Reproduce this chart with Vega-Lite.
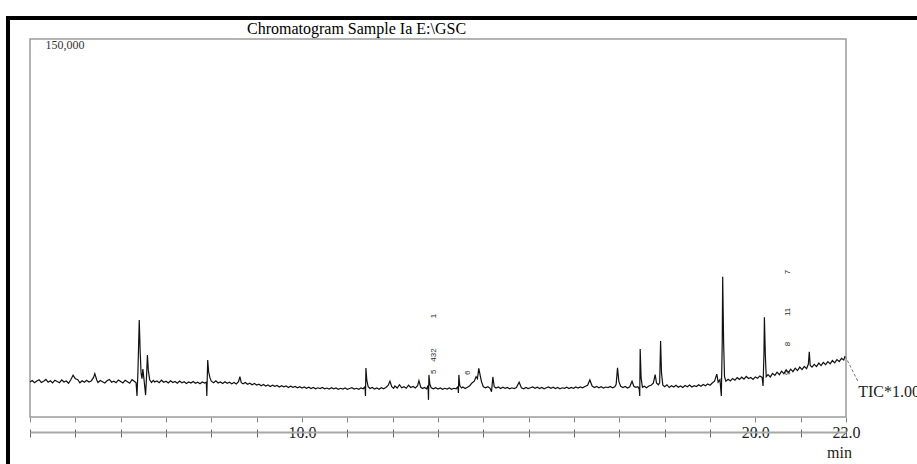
{
  "$schema": "https://vega.github.io/schema/vega-lite/v6.json",
  "width": 909,
  "height": 446,
  "autosize": {"type": "none"},
  "padding": {"left": 8, "top": 18, "right": 0, "bottom": 0},
  "background": "white",
  "view": {"stroke": "black", "strokeWidth": 4, "strokeDash": [909, 1355, 446], "fill": "white"},
  "title": {"text": "Chromatogram Sample Ia E:\\GSC", "anchor": "middle", "frame": "group", "dx": -106, "dy": 32, "offset": 0, "font": "Liberation Serif", "fontSize": 16, "fontWeight": "normal", "color": "black", "baseline": "alphabetic"},
  "config": {"font": "Liberation Serif"},
  "resolve": {"axis": {"x": "independent", "y": "independent"}},
  "datasets": {
    "box": [{"t0": 4, "t1": 22, "v0": 0, "v1": 150000}],
    "peaks": [
      {"t": 12.91, "v": 40100, "label": "1"},
      {"t": 12.91, "v": 24600, "label": "432"},
      {"t": 12.91, "v": 17900, "label": "5"},
      {"t": 13.66, "v": 17500, "label": "6"},
      {"t": 20.72, "v": 57500, "label": "7"},
      {"t": 20.72, "v": 41700, "label": "11"},
      {"t": 20.72, "v": 29000, "label": "8"},
      {"t": 20.72, "v": 17500, "label": "9"}
    ],
    "tic": [{"t": 21.98, "v": 24200}, {"t": 22.27, "v": 13900}],
    "ticlabel": [{"t": 22.27, "v": 9900, "label": "TIC*1.00"}],
    "trace": [
      {"t":4.00,"v":13900},{"t":4.05,"v":14500},{"t":4.10,"v":13600},{"t":4.15,"v":14300},{"t":4.20,"v":14800},{"t":4.25,"v":13700},{"t":4.30,"v":14200},{"t":4.35,"v":14900},{"t":4.40,"v":13800},{"t":4.45,"v":14400},
      {"t":4.50,"v":13500},{"t":4.55,"v":14600},{"t":4.60,"v":14100},{"t":4.65,"v":13600},{"t":4.70,"v":14700},{"t":4.75,"v":13900},{"t":4.80,"v":14300},{"t":4.85,"v":13400},{"t":4.90,"v":14800},{"t":4.95,"v":16600},
      {"t":5.00,"v":15200},{"t":5.05,"v":14900},{"t":5.10,"v":13600},{"t":5.15,"v":14400},{"t":5.20,"v":13800},{"t":5.25,"v":14600},{"t":5.30,"v":13900},{"t":5.35,"v":14300},{"t":5.40,"v":15600},{"t":5.43,"v":17200},
      {"t":5.47,"v":14800},{"t":5.50,"v":13700},{"t":5.55,"v":14500},{"t":5.60,"v":14000},{"t":5.65,"v":13500},{"t":5.70,"v":14400},{"t":5.75,"v":14900},{"t":5.80,"v":13800},{"t":5.85,"v":14200},{"t":5.90,"v":13600},
      {"t":5.95,"v":14700},{"t":6.00,"v":14100},{"t":6.05,"v":13500},{"t":6.10,"v":14600},{"t":6.15,"v":14000},{"t":6.20,"v":13400},{"t":6.25,"v":14800},{"t":6.30,"v":14200},{"t":6.34,"v":13600},{"t":6.36,"v":8300},
      {"t":6.38,"v":17500},{"t":6.41,"v":38500},{"t":6.43,"v":26000},{"t":6.45,"v":17500},{"t":6.47,"v":15200},{"t":6.49,"v":19000},{"t":6.52,"v":14000},{"t":6.55,"v":8700},{"t":6.57,"v":16000},{"t":6.59,"v":24600},
      {"t":6.61,"v":18500},{"t":6.64,"v":14800},{"t":6.68,"v":13700},{"t":6.72,"v":14500},{"t":6.75,"v":13900},{"t":6.80,"v":14300},{"t":6.85,"v":13600},{"t":6.90,"v":14600},{"t":6.95,"v":13800},{"t":7.00,"v":14200},
      {"t":7.05,"v":13500},{"t":7.10,"v":14400},{"t":7.15,"v":13700},{"t":7.20,"v":14100},{"t":7.25,"v":13400},{"t":7.30,"v":14300},{"t":7.35,"v":13600},{"t":7.40,"v":14000},{"t":7.45,"v":13300},{"t":7.50,"v":13900},
      {"t":7.55,"v":13500},{"t":7.60,"v":14100},{"t":7.65,"v":13400},{"t":7.70,"v":13800},{"t":7.75,"v":13200},{"t":7.80,"v":13900},{"t":7.85,"v":13500},{"t":7.89,"v":13800},{"t":7.90,"v":8300},{"t":7.92,"v":22600},
      {"t":7.94,"v":18000},{"t":7.97,"v":15500},{"t":8.00,"v":14200},{"t":8.05,"v":13600},{"t":8.10,"v":14400},{"t":8.15,"v":13500},{"t":8.20,"v":13900},{"t":8.25,"v":13300},{"t":8.30,"v":14000},{"t":8.35,"v":13400},
      {"t":8.40,"v":13800},{"t":8.45,"v":13200},{"t":8.50,"v":13700},{"t":8.55,"v":13100},{"t":8.60,"v":14000},{"t":8.63,"v":16000},{"t":8.66,"v":13600},{"t":8.70,"v":13200},{"t":8.75,"v":13700},{"t":8.80,"v":13000},
      {"t":8.85,"v":13400},{"t":8.90,"v":12800},{"t":8.95,"v":13300},{"t":9.00,"v":12700},{"t":9.05,"v":13000},{"t":9.10,"v":12400},{"t":9.15,"v":12900},{"t":9.20,"v":12300},{"t":9.25,"v":12700},{"t":9.30,"v":12100},
      {"t":9.35,"v":12600},{"t":9.40,"v":12200},{"t":9.45,"v":12500},{"t":9.50,"v":11900},{"t":9.55,"v":12400},{"t":9.60,"v":12000},{"t":9.65,"v":12300},{"t":9.70,"v":11700},{"t":9.75,"v":12200},{"t":9.80,"v":11800},
      {"t":9.85,"v":12100},{"t":9.90,"v":11600},{"t":9.95,"v":12000},{"t":10.00,"v":11500},{"t":10.05,"v":11900},{"t":10.10,"v":11400},{"t":10.15,"v":11800},{"t":10.20,"v":11300},{"t":10.25,"v":11700},{"t":10.30,"v":11200},
      {"t":10.35,"v":11600},{"t":10.40,"v":11300},{"t":10.45,"v":11700},{"t":10.50,"v":11200},{"t":10.55,"v":11500},{"t":10.60,"v":11100},{"t":10.65,"v":11600},{"t":10.70,"v":11200},{"t":10.75,"v":11500},{"t":10.80,"v":11000},
      {"t":10.85,"v":11400},{"t":10.90,"v":11100},{"t":10.95,"v":11500},{"t":11.00,"v":11000},{"t":11.05,"v":11300},{"t":11.10,"v":11600},{"t":11.15,"v":11100},{"t":11.20,"v":11400},{"t":11.25,"v":11000},{"t":11.30,"v":11500},
      {"t":11.35,"v":11200},{"t":11.39,"v":12000},{"t":11.40,"v":8300},{"t":11.41,"v":19400},{"t":11.43,"v":14500},{"t":11.46,"v":12000},{"t":11.50,"v":11300},{"t":11.55,"v":11700},{"t":11.60,"v":11100},{"t":11.65,"v":11500},
      {"t":11.70,"v":11000},{"t":11.75,"v":11600},{"t":11.80,"v":11200},{"t":11.85,"v":11700},{"t":11.90,"v":12500},{"t":11.94,"v":14200},{"t":11.98,"v":12000},{"t":12.02,"v":11400},{"t":12.05,"v":12300},{"t":12.10,"v":11500},
      {"t":12.15,"v":12800},{"t":12.20,"v":11600},{"t":12.25,"v":12000},{"t":12.30,"v":11400},{"t":12.35,"v":12600},{"t":12.40,"v":11700},{"t":12.45,"v":12100},{"t":12.50,"v":11500},{"t":12.55,"v":12400},{"t":12.58,"v":14400},
      {"t":12.62,"v":11800},{"t":12.66,"v":11300},{"t":12.70,"v":11700},{"t":12.75,"v":11200},{"t":12.78,"v":12500},{"t":12.79,"v":6800},{"t":12.80,"v":16700},{"t":12.82,"v":13000},{"t":12.85,"v":11600},{"t":12.90,"v":11200},
      {"t":12.95,"v":11600},{"t":13.00,"v":11100},{"t":13.05,"v":11500},{"t":13.10,"v":11000},{"t":13.15,"v":11400},{"t":13.20,"v":11100},{"t":13.25,"v":11500},{"t":13.30,"v":11000},{"t":13.35,"v":11400},{"t":13.40,"v":11200},
      {"t":13.44,"v":12000},{"t":13.45,"v":9500},{"t":13.46,"v":16700},{"t":13.48,"v":12500},{"t":13.52,"v":11500},{"t":13.55,"v":11900},{"t":13.60,"v":11300},{"t":13.65,"v":11800},{"t":13.70,"v":12400},{"t":13.75,"v":13500},
      {"t":13.80,"v":14200},{"t":13.84,"v":16000},{"t":13.87,"v":15200},{"t":13.90,"v":19300},{"t":13.93,"v":16500},{"t":13.96,"v":14000},{"t":14.00,"v":12000},{"t":14.05,"v":11600},{"t":14.10,"v":12000},{"t":14.15,"v":11400},
      {"t":14.18,"v":10000},{"t":14.21,"v":15900},{"t":14.24,"v":12000},{"t":14.28,"v":11500},{"t":14.33,"v":11900},{"t":14.38,"v":11300},{"t":14.43,"v":11800},{"t":14.48,"v":11400},{"t":14.53,"v":11700},{"t":14.58,"v":11200},
      {"t":14.63,"v":11600},{"t":14.68,"v":11300},{"t":14.73,"v":11700},{"t":14.79,"v":13800},{"t":14.84,"v":11600},{"t":14.89,"v":11200},{"t":14.94,"v":11700},{"t":14.99,"v":11300},{"t":15.04,"v":11600},{"t":15.09,"v":11900},
      {"t":15.14,"v":11400},{"t":15.19,"v":11800},{"t":15.24,"v":11300},{"t":15.29,"v":11700},{"t":15.34,"v":11200},{"t":15.39,"v":11600},{"t":15.44,"v":11900},{"t":15.49,"v":11400},{"t":15.54,"v":11800},{"t":15.59,"v":11300},
      {"t":15.64,"v":11700},{"t":15.69,"v":11200},{"t":15.74,"v":11600},{"t":15.79,"v":11400},{"t":15.84,"v":11800},{"t":15.89,"v":11300},{"t":15.94,"v":11700},{"t":15.99,"v":11400},{"t":16.04,"v":11900},{"t":16.09,"v":11500},
      {"t":16.14,"v":11900},{"t":16.19,"v":11600},{"t":16.24,"v":12100},{"t":16.30,"v":12600},{"t":16.35,"v":14700},{"t":16.40,"v":12300},{"t":16.45,"v":11700},{"t":16.50,"v":12100},{"t":16.55,"v":11600},{"t":16.60,"v":12000},
      {"t":16.65,"v":11500},{"t":16.70,"v":11900},{"t":16.75,"v":11700},{"t":16.80,"v":12100},{"t":16.85,"v":11600},{"t":16.90,"v":12000},{"t":16.93,"v":13000},{"t":16.96,"v":19500},{"t":16.99,"v":14000},{"t":17.03,"v":12200},
      {"t":17.08,"v":11700},{"t":17.13,"v":12100},{"t":17.18,"v":11500},{"t":17.23,"v":12000},{"t":17.28,"v":14200},{"t":17.32,"v":12200},{"t":17.36,"v":11800},{"t":17.41,"v":12000},{"t":17.44,"v":11000},{"t":17.45,"v":8300},
      {"t":17.46,"v":27000},{"t":17.48,"v":15500},{"t":17.51,"v":11800},{"t":17.55,"v":12200},{"t":17.60,"v":11600},{"t":17.65,"v":12300},{"t":17.70,"v":12600},{"t":17.75,"v":13400},{"t":17.79,"v":16800},{"t":17.82,"v":13500},
      {"t":17.86,"v":12800},{"t":17.89,"v":13600},{"t":17.91,"v":30200},{"t":17.93,"v":17500},{"t":17.96,"v":12600},{"t":18.00,"v":12000},{"t":18.05,"v":12800},{"t":18.10,"v":11700},{"t":18.15,"v":12400},{"t":18.20,"v":11900},
      {"t":18.25,"v":12600},{"t":18.30,"v":11800},{"t":18.35,"v":12300},{"t":18.40,"v":11700},{"t":18.45,"v":12500},{"t":18.50,"v":12000},{"t":18.55,"v":12700},{"t":18.60,"v":11900},{"t":18.65,"v":12400},{"t":18.70,"v":12100},
      {"t":18.75,"v":12800},{"t":18.80,"v":12200},{"t":18.85,"v":12900},{"t":18.90,"v":12400},{"t":18.95,"v":13100},{"t":19.00,"v":12600},{"t":19.05,"v":13500},{"t":19.10,"v":14200},{"t":19.15,"v":17000},{"t":19.18,"v":13800},
      {"t":19.22,"v":14800},{"t":19.25,"v":8300},{"t":19.27,"v":30000},{"t":19.28,"v":55700},{"t":19.30,"v":30000},{"t":19.32,"v":16000},{"t":19.35,"v":14200},{"t":19.40,"v":15000},{"t":19.45,"v":14300},{"t":19.50,"v":15300},
      {"t":19.55,"v":14600},{"t":19.60,"v":15600},{"t":19.65,"v":14900},{"t":19.70,"v":15800},{"t":19.75,"v":15000},{"t":19.80,"v":16100},{"t":19.85,"v":15300},{"t":19.90,"v":15700},{"t":19.95,"v":14900},{"t":20.00,"v":15900},
      {"t":20.05,"v":15400},{"t":20.10,"v":16300},{"t":20.15,"v":15700},{"t":20.17,"v":12300},{"t":20.19,"v":25000},{"t":20.20,"v":39600},{"t":20.22,"v":25000},{"t":20.24,"v":16000},{"t":20.28,"v":16800},{"t":20.33,"v":15900},
      {"t":20.38,"v":17300},{"t":20.43,"v":16500},{"t":20.48,"v":17800},{"t":20.53,"v":16800},{"t":20.58,"v":18200},{"t":20.63,"v":17200},{"t":20.68,"v":18700},{"t":20.73,"v":17600},{"t":20.78,"v":19000},{"t":20.83,"v":18000},
      {"t":20.88,"v":19400},{"t":20.93,"v":18400},{"t":20.98,"v":19800},{"t":21.03,"v":18800},{"t":21.08,"v":20100},{"t":21.13,"v":19200},{"t":21.17,"v":21000},{"t":21.19,"v":25900},{"t":21.21,"v":20500},{"t":21.25,"v":19800},
      {"t":21.30,"v":20900},{"t":21.35,"v":20000},{"t":21.40,"v":21400},{"t":21.45,"v":20400},{"t":21.50,"v":21700},{"t":21.55,"v":20800},{"t":21.60,"v":22000},{"t":21.65,"v":21100},{"t":21.70,"v":22400},{"t":21.75,"v":21500},
      {"t":21.80,"v":22800},{"t":21.85,"v":22000},{"t":21.90,"v":23300},{"t":21.95,"v":22600},{"t":21.98,"v":24200}
    ]
  },
  "layer": [
    {
      "data": {"name": "box"},
      "mark": {"type": "rect", "fill": "white", "fillOpacity": 0, "stroke": "#9a9a9a", "strokeWidth": 1.5},
      "encoding": {
        "x": {"field": "t0", "type": "quantitative", "scale": {"domain": [4, 22], "range": [22, 838], "nice": false, "zero": false},
          "axis": {"orient": "bottom", "offset": -47, "values": [4,5,6,7,8,9,10,11,12,13,14,15,16,17,18,19,20,21,22], "tickSize": 5, "tickColor": "#888", "tickWidth": 1, "domain": false, "labels": false, "grid": false, "title": null}},
        "x2": {"field": "t1"},
        "y": {"field": "v0", "type": "quantitative", "scale": {"domain": [0, 150000], "range": [399, 21], "nice": false, "zero": false}, "axis": null},
        "y2": {"field": "v1"}
      }
    },
    {
      "data": {"name": "trace"},
      "mark": {"type": "line", "color": "#111111", "strokeWidth": 1.2},
      "encoding": {
        "x": {"field": "t", "type": "quantitative", "scale": {"domain": [4, 22], "range": [22, 838], "nice": false, "zero": false},
          "axis": {"orient": "bottom", "offset": -32, "values": [4,5,6,7,8,9,10,11,12,13,14,15,16,17,18,19,20,21,22], "tickSize": 5, "tickColor": "#666", "tickWidth": 1, "domainColor": "#a8a8a8", "domainWidth": 2,
            "labelExpr": "datum.value == 10 || datum.value == 20 || datum.value == 22 ? format(datum.value, '.1f') : ''",
            "labelPadding": -5, "labelBaseline": "middle", "labelFont": "Liberation Serif", "labelFontSize": 16, "labelColor": "#222", "labelFlush": false, "labelOverlap": false, "labelBound": false, "grid": false,
            "title": "min", "titleX": 831, "titleY": 20, "titleAlign": "center", "titleBaseline": "middle", "titleFont": "Liberation Serif", "titleFontSize": 16, "titleFontWeight": "normal", "titleColor": "#222", "titleAngle": 0}},
        "y": {"field": "v", "type": "quantitative", "scale": {"domain": [0, 150000], "range": [399, 21], "nice": false, "zero": false},
          "axis": {"orient": "left", "offset": -22, "values": [150000], "labelExpr": "format(datum.value, ',d')", "ticks": false, "tickSize": 0, "domain": false, "grid": false, "labelAlign": "left", "labelBaseline": "top", "labelPadding": -15, "labelFont": "Liberation Serif", "labelFontSize": 12, "labelColor": "#333", "labelFlush": false, "labelOverlap": false, "labelBound": false, "title": null}}
      }
    },
    {
      "data": {"name": "peaks"},
      "mark": {"type": "text", "angle": 270, "fontSize": 8, "font": "Liberation Sans", "color": "#2a2a2a", "align": "center", "baseline": "middle"},
      "encoding": {
        "x": {"field": "t", "type": "quantitative", "scale": {"domain": [4, 22], "range": [22, 838], "nice": false, "zero": false},
          "axis": {"orient": "bottom", "offset": -35, "values": [4,5,6,7,8,9,10,11,12,13,14,15,16,17,18,19,20,21,22], "tickSize": 3, "tickColor": "#666", "tickWidth": 1, "domain": false, "labels": false, "grid": false, "title": null}},
        "y": {"field": "v", "type": "quantitative", "scale": {"domain": [0, 150000], "range": [399, 21], "nice": false, "zero": false}, "axis": null},
        "text": {"field": "label"}
      }
    },
    {
      "data": {"name": "tic"},
      "mark": {"type": "line", "stroke": "#777", "strokeWidth": 1, "strokeDash": [3, 2]},
      "encoding": {
        "x": {"field": "t", "type": "quantitative", "scale": {"domain": [4, 22], "range": [22, 838], "nice": false, "zero": false}, "axis": null},
        "y": {"field": "v", "type": "quantitative", "scale": {"domain": [0, 150000], "range": [399, 21], "nice": false, "zero": false}, "axis": null}
      }
    },
    {
      "data": {"name": "ticlabel"},
      "mark": {"type": "text", "align": "left", "baseline": "middle", "font": "Liberation Serif", "fontSize": 16, "color": "#222"},
      "encoding": {
        "x": {"field": "t", "type": "quantitative", "scale": {"domain": [4, 22], "range": [22, 838], "nice": false, "zero": false}, "axis": null},
        "y": {"field": "v", "type": "quantitative", "scale": {"domain": [0, 150000], "range": [399, 21], "nice": false, "zero": false}, "axis": null},
        "text": {"field": "label"}
      }
    }
  ]
}
